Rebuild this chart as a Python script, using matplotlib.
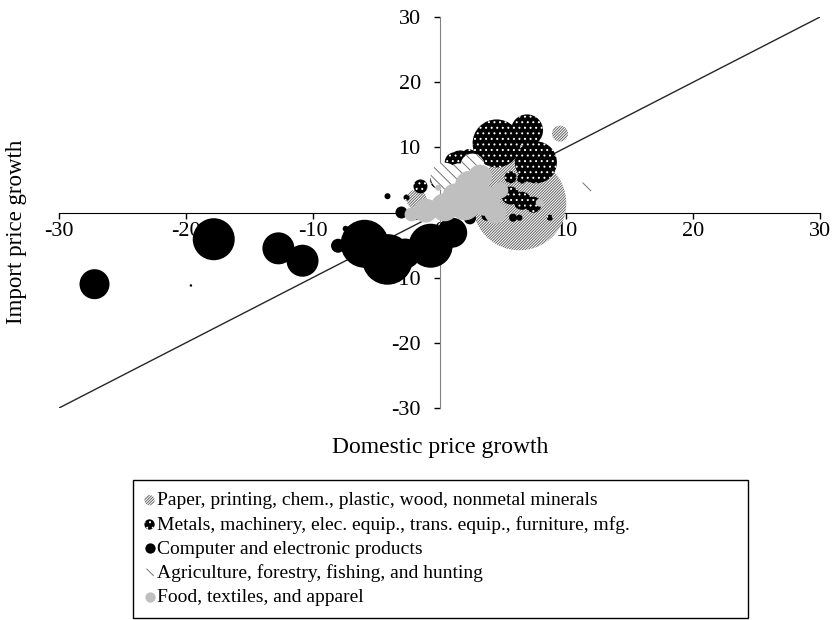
import numpy as np
import matplotlib
matplotlib.use('Agg')
import matplotlib.pyplot as plt

plt.rcParams['font.family'] = ['Liberation Serif', 'DejaVu Serif']
plt.rcParams['axes.unicode_minus'] = False
plt.rcParams['hatch.linewidth'] = 0.7

# bubble data: x = domestic, y = import, size ~ bubble area
paper_x = [6.3, 9.5, -1.8, -2.1]
paper_y = [1.4, 12.1, 2.0, 1.8]
paper_size = [2200, 64, 100, 36]

metals_x = [4.5, 6.9, 7.6, 1.6, 1.2, 2.3, -0.1, -1.5, 5.6, 6.5, 7.4, 5.6, 6.5, 8.7, -2.6]
metals_y = [10.6, 12.6, 7.7, 8.0, 7.7, 8.5, 4.9, 4.0, 2.6, 1.8, 1.2, 5.4, 5.2, -0.8, 2.3]
metals_size = [576, 256, 441, 100, 100, 64, 64, 49, 81, 81, 64, 36, 25, 9, 9]

computer_x = [-27.2, -19.6, -17.8, -12.7, -10.8, -5.9, -4.1, -8.0, -7.4,
              -0.7, 1.0, -2.7, -3.0, -4.1, 2.4, 3.7, 5.8, 6.3]
computer_y = [-11.0, -11.2, -4.1, -5.5, -7.4, -4.8, -7.2, -5.1, -2.5,
              -5.1, -3.1, -6.3, 0.0, 2.5, -0.9, -0.5, -0.8, -0.8]
computer_size = [225, 1.5, 441, 256, 256, 576, 640, 49, 9,
                 484, 225, 225, 36, 9, 36, 25, 16, 9]

agri_x = [0.4, 2.6, 1.5, 11.6]
agri_y = [5.5, 7.2, 6.0, 3.9]
agri_size = [196, 144, 100, 36]

food_x = [-1.1, -2.2, 0.4, 2.0, 3.6, 2.4, 3.2, 4.4, 1.2, 4.8, -0.1, 7.9]
food_y = [0.3, -0.3, 0.8, 1.1, 1.8, 4.1, 5.5, 0.0, 2.6, 3.4, 3.8, 1.5]
food_size = [144, 49, 196, 225, 225, 225, 144, 121, 144, 64, 9, 16]

line_x = [-30, 30]
line_y = [-30, 30]
ticks = [-30, -20, -10, 0, 10, 20, 30]

labels = ['Paper, printing, chem., plastic, wood, nonmetal minerals',
          'Metals, machinery, elec. equip., trans. equip., furniture, mfg.',
          'Computer and electronic products',
          'Agriculture, forestry, fishing, and hunting',
          'Food, textiles, and apparel']

k = (2 * 0.72) ** 2  # px^2 -> pt^2 at 100 dpi

paper_style = dict(facecolor='white', edgecolor='0.4', hatch='/' * 12, linewidth=0)
metals_style = dict(facecolor='black', edgecolor='white', hatch='...', linewidth=0)
computer_style = dict(color='black', linewidth=0)
agri_style = dict(facecolor='white', edgecolor='0.45', hatch='\\' * 3, linewidth=0)
food_style = dict(color='#bfbfbf', linewidth=0)

fig = plt.figure(figsize=(8.35, 6.2), dpi=100)
ax = fig.add_axes([59 / 835, 1 - 408 / 620, 761 / 835, 391 / 620])

ax.plot(line_x, line_y, color='0.15', lw=1.0, zorder=2)

ax.scatter(paper_x, paper_y, s=np.array(paper_size) * k, zorder=3, **paper_style)
ax.scatter(metals_x, metals_y, s=np.array(metals_size) * k, zorder=4, **metals_style)
ax.scatter(computer_x, computer_y, s=np.array(computer_size) * k, zorder=5, **computer_style)
ax.scatter(agri_x, agri_y, s=np.array(agri_size) * k, zorder=6, **agri_style)
ax.scatter(food_x, food_y, s=np.array(food_size) * k, zorder=7, **food_style)

ax.set_xlim(-30, 30)
ax.set_ylim(-30, 30)
ax.set_xticks(ticks)
ax.set_yticks(ticks)
ax.spines['left'].set_position('zero')
ax.spines['bottom'].set_position('zero')
ax.spines['left'].set_color('#808080')
ax.spines['bottom'].set_color('black')
ax.spines['top'].set_visible(False)
ax.spines['right'].set_visible(False)
ax.tick_params(axis='both', direction='out', length=4.5, width=1, labelsize=16)
ax.tick_params(axis='x', pad=2)
ax.tick_params(axis='y', pad=9)
ax.patch.set_alpha(0)

fig.text(17 / 835, 1 - 232 / 620, 'Import price growth', rotation=90,
         ha='center', va='center', fontsize=16.5)
fig.text(440 / 835, 1 - 447 / 620, 'Domestic price growth',
         ha='center', va='center', fontsize=17)

# legend proxies
handles = [ax.scatter([], [], s=55, **st) for st in
           (paper_style, metals_style, computer_style, agri_style, food_style)]

leg = fig.legend(handles, labels,
                 loc='upper left', bbox_to_anchor=(133 / 835, 3 / 620, 615 / 835, 137 / 620),
                 mode='expand', borderaxespad=0, fontsize=14, frameon=True,
                 fancybox=False, edgecolor='black', framealpha=1,
                 labelspacing=0.33, handlelength=0.5, handletextpad=0.15,
                 borderpad=0.6, scatterpoints=1)
leg.get_frame().set_linewidth(1.0)

fig.savefig('out.png', dpi=100)
